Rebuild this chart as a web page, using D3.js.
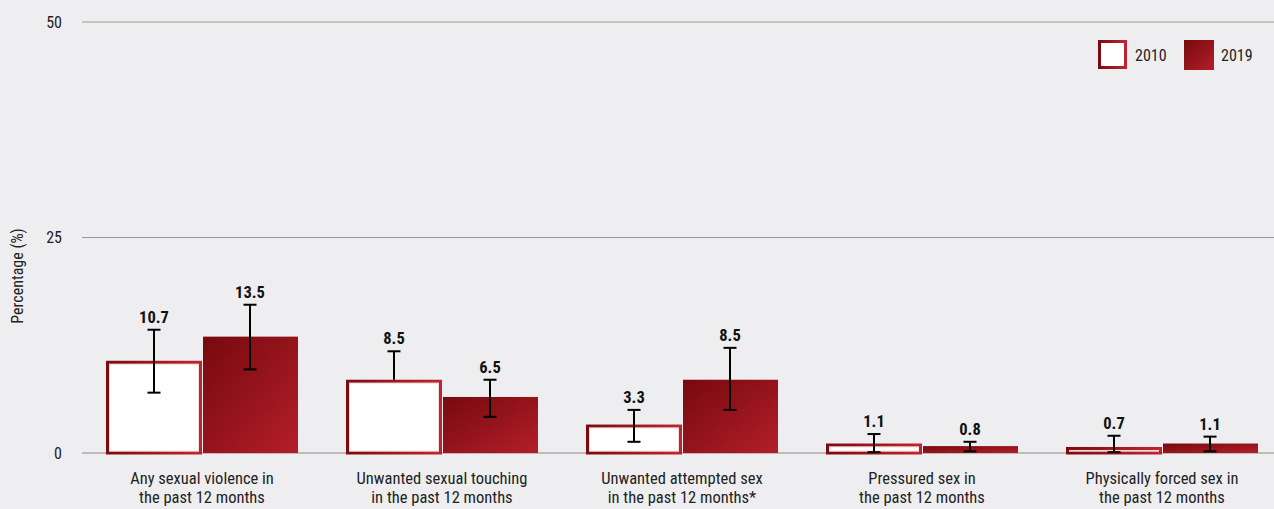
<!DOCTYPE html>
<html><head><meta charset="utf-8">
<script src="https://cdn.jsdelivr.net/npm/d3@7/dist/d3.min.js"></script>
<style>
html,body{margin:0;padding:0;background:#eeeef0;}
svg{display:block;font-family:"Liberation Sans Narrow","Roboto Condensed","Arial Narrow",Roboto,sans-serif;}
</style></head>
<body><svg id="c" width="1274" height="509"></svg>
<script>
const categories = [
  ["Any sexual violence in","the past 12 months"],
  ["Unwanted sexual touching","in the past 12 months"],
  ["Unwanted attempted sex","in the past 12 months*"],
  ["Pressured sex in","the past 12 months"],
  ["Physically forced sex in","the past 12 months"]
];
const seriesNames = ["2010","2019"];
const values2010 = [10.7, 8.5, 3.3, 1.1, 0.7];
const values2019 = [13.5, 6.5, 8.5, 0.8, 1.1];
const errLow2010 = [7.0, null, 1.3, 0.1, 0.1];
const errHigh2010 = [14.3, 11.8, 5.0, 2.2, 2.0];
const errLow2019 = [9.7, 4.2, 5.0, 0.2, 0.2];
const errHigh2019 = [17.2, 8.5, 12.2, 1.3, 1.9];
const yTicks = [0, 25, 50];

const svg = d3.select("#c");
const W = 1274, H = 509;
const x0 = d3.scaleBand().domain(d3.range(categories.length)).range([82, 1282]).paddingInner(0.2).paddingOuter(0.1);
const x1 = d3.scaleBand().domain(seriesNames).range([0, x0.bandwidth()]).padding(0);
const y = d3.scaleLinear().domain([0, 50]).range([453, 22]);

const defs = svg.append("defs");
const g1 = defs.append("linearGradient").attr("id","fillG").attr("x1","0").attr("y1","0").attr("x2","1").attr("y2","1");
g1.append("stop").attr("offset","0").attr("stop-color","#760a0e");
g1.append("stop").attr("offset","1").attr("stop-color","#b41e29");
const g2 = defs.append("linearGradient").attr("id","strokeG").attr("x1","0").attr("y1","0").attr("x2","1").attr("y2","0");
g2.append("stop").attr("offset","0").attr("stop-color","#7a0b10");
g2.append("stop").attr("offset","1").attr("stop-color","#c02430");

// grid
const grid = svg.append("g");
yTicks.forEach(t => {
  grid.append("line").attr("x1", 82).attr("x2", W).attr("y1", y(t)).attr("y2", y(t))
    .attr("stroke", t === 0 ? "#8a8a8a" : "#9a9a9a").attr("stroke-width", 1.2);
  grid.append("text").attr("x", 62).attr("y", y(t)).attr("dy", "0.35em").attr("text-anchor","end")
    .attr("font-size", 16).attr("fill","#222").text(t);
});

svg.append("text").attr("transform", `translate(23,276) rotate(-90)`)
  .attr("text-anchor","middle").attr("font-size", 16).attr("fill","#222").text("Percentage (%)");

const data = categories.map((c, i) => ({
  i,
  bars: [
    {s:"2010", v: values2010[i], lo: errLow2010[i], hi: errHigh2010[i]},
    {s:"2019", v: values2019[i], lo: errLow2019[i], hi: errHigh2019[i]}
  ]
}));

const groups = svg.append("g").selectAll("g").data(data).join("g")
  .attr("transform", d => `translate(${x0(d.i)},0)`);

groups.each(function(d){
  const g = d3.select(this);
  d.bars.forEach(b => {
    const bx = x1(b.s), bw = x1.bandwidth();
    if (b.s === "2010") {
      g.append("rect").attr("x", bx+1.5).attr("y", y(b.v)+1.5).attr("width", bw-3).attr("height", Math.max(0, y(0)-y(b.v)-1.5))
        .attr("fill","#fff").attr("stroke","url(#strokeG)").attr("stroke-width",3);
      g.append("rect").attr("x", bx+3.5).attr("y", y(b.v)+3.5).attr("width", bw-7).attr("height", Math.max(0, y(0)-y(b.v)-5.5))
        .attr("fill","none").attr("stroke","#f2d4d6").attr("stroke-width",0.8);
    } else {
      g.append("rect").attr("x", bx+1).attr("y", y(b.v)).attr("width", bw-1).attr("height", y(0)-y(b.v))
        .attr("fill","url(#fillG)");
    }
    const cx = bx + bw/2;
    const lo = b.lo === null ? b.v : b.lo;
    g.append("line").attr("x1",cx).attr("x2",cx).attr("y1",y(b.hi)).attr("y2",y(lo)).attr("stroke","#000").attr("stroke-width",2);
    g.append("line").attr("x1",cx-6.5).attr("x2",cx+6.5).attr("y1",y(b.hi)).attr("y2",y(b.hi)).attr("stroke","#000").attr("stroke-width",2);
    if (b.lo !== null)
      g.append("line").attr("x1",cx-6.5).attr("x2",cx+6.5).attr("y1",y(b.lo)).attr("y2",y(b.lo)).attr("stroke","#000").attr("stroke-width",2);
    g.append("text").attr("x", cx).attr("y", Math.min(y(b.hi), y(b.v)) - 7).attr("text-anchor","middle")
      .attr("font-size",16.5).attr("font-weight","bold").attr("fill","#111").text(b.v.toFixed(1));
  });
  categories[d.i].forEach((line, k) => {
    g.append("text").attr("x", x0.bandwidth()/2).attr("y", 484 + k*19).attr("text-anchor","middle")
      .attr("font-size",16.5).attr("fill","#222").text(line);
  });
});

// legend
const leg = svg.append("g");
const legItems = [{s:"2010", x:1098},{s:"2019", x:1184}];
legItems.forEach(it => {
  if (it.s === "2010") {
    leg.append("rect").attr("x", it.x+1.5).attr("y", 41.5).attr("width", 26).attr("height", 26)
      .attr("fill","#fff").attr("stroke","url(#strokeG)").attr("stroke-width",3);
  } else {
    leg.append("rect").attr("x", it.x).attr("y", 40).attr("width", 30).attr("height", 30).attr("fill","url(#fillG)");
  }
  leg.append("text").attr("x", it.x + 37).attr("y", 55).attr("dy","0.35em").attr("font-size",16).attr("fill","#222").text(it.s);
});
</script></body></html>
